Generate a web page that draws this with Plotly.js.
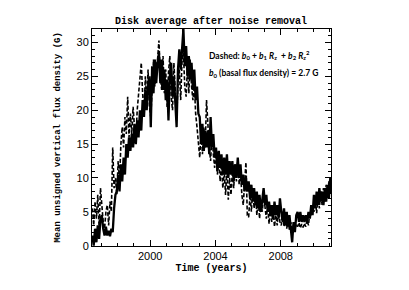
<!DOCTYPE html>
<html>
<head>
<meta charset="utf-8">
<script src="https://cdn.plot.ly/plotly-3.0.1.min.js"></script>
<style>html,body{margin:0;padding:0;background:#fff;}#chart{width:409px;height:290px;}</style>
</head>
<body>
<div id="chart"></div>
<script>
// Monthly samples starting at 1996.45 (step 1/12 yr)
const startYear = 1996.45;
const stepYear = 1 / 12;

// Solid curve: measured mean unsigned vertical flux density (G)
const solidValues = [
  1.5, 0.0, 2.5, 0.5, 3.0, 1.0, 4.0,
  4.5, 2.5, 1.5, 2.8, 1.5, 2.2,
  1.4, 2.5, 2.0, 5.5, 7.5, 8.0,
  10.5, 8.0, 12.0, 9.5, 13.0, 10.5,
  15.0, 13.0, 16.0, 14.0, 16.5, 14.5,
  18.0, 15.0, 18.5, 16.0, 20.0, 17.0,
  21.5, 19.0, 23.0, 20.0, 23.5, 25.0,
  17.5, 26.5, 22.5, 27.5, 24.0, 27.0,
  28.5, 24.0, 27.5, 23.0, 26.0, 21.5,
  24.5, 18.5, 25.0, 27.0, 22.0, 25.0,
  20.5, 17.5, 26.0, 29.0, 26.0, 29.5,
  32.0, 26.5, 29.5, 25.0, 28.0, 24.5,
  27.0, 23.0, 26.0, 21.5, 23.5, 19.5,
  19.0, 15.0, 18.0, 14.0, 17.0, 14.5,
  17.0, 13.5, 19.0, 14.5, 16.5, 13.0,
  14.5, 11.0, 14.0, 11.5, 13.5, 10.5,
  13.0, 10.5, 13.5, 10.0, 12.5, 10.5,
  12.5, 9.5, 12.0, 10.0, 13.0, 10.0,
  12.0, 9.0, 10.5, 8.0, 10.0, 8.0,
  9.5, 7.0, 9.0, 6.5, 8.5, 6.0,
  8.0, 5.5, 7.5, 5.0, 7.0, 8.5,
  6.0, 7.5, 5.0, 6.5, 4.5, 6.0,
  4.0, 6.5, 4.5, 6.0, 4.0, 7.0,
  5.0, 3.5, 5.5, 3.0, 5.0, 2.8,
  4.5, 2.5, 0.5, 3.5, 2.0, 4.5,
  5.0, 3.5, 5.0, 3.5, 4.5, 3.5,
  4.5, 3.5, 5.0, 4.0, 6.0, 4.5,
  7.5, 5.5, 8.0, 6.0, 8.5, 6.5,
  8.0, 6.0, 8.5, 6.5, 9.0, 7.0,
  10.0, 8.0
];

// Dashed curve: b0 + b1 Rz + b2 Rz^2 fit
const dashedValues = [
  5.5, 3.0, 6.5, 4.0, 7.5, 2.5, 8.5,
  5.5, 3.5, 2.5, 5.0, 6.0, 3.0,
  6.5, 5.0, 14.5, 8.5, 10.0, 7.5,
  12.5, 9.5, 15.0, 17.5, 14.5, 19.0,
  16.5, 22.0, 16.0, 19.5, 16.5, 20.5,
  17.5, 15.5, 20.0, 22.5, 25.5, 27.0,
  22.5, 19.5, 25.0, 21.5, 26.0, 20.5,
  19.0, 24.0, 27.5, 23.5, 26.5, 27.5,
  30.3, 25.0, 23.0, 28.0, 22.5, 26.0,
  20.5, 25.5, 28.0, 22.0, 20.0, 27.0,
  22.0, 18.5, 24.0, 26.0, 21.5, 27.5,
  28.5, 23.5, 22.0, 26.5, 22.5, 27.5,
  23.5, 21.5, 24.0, 19.5, 17.5, 15.0,
  13.0, 17.0, 13.5, 17.5, 14.5, 21.5,
  17.5, 14.5, 12.5, 16.5, 13.5, 11.5,
  14.0, 10.5, 13.0, 9.5, 12.0, 8.5,
  11.0, 7.5, 11.5, 6.8, 10.0, 7.5,
  11.0, 8.5, 12.0, 9.5, 12.5, 9.0,
  11.0, 7.5, 6.0, 9.5, 12.3, 4.5,
  4.2, 7.5, 5.0, 8.5, 5.5, 8.0,
  4.5, 7.0, 4.0, 6.5, 5.0, 7.5,
  5.5, 4.0, 6.0, 3.2, 5.5, 3.5,
  5.0, 2.8, 4.5, 3.0, 5.5, 3.5,
  3.0, 5.0, 2.8, 4.5, 2.5, 4.0,
  2.2, 3.5, 1.5, 3.0, 2.5, 3.2,
  2.8, 3.4, 2.6, 3.2, 2.7, 3.3,
  2.8, 3.8, 3.0, 5.0, 4.5, 6.0,
  5.0, 7.0, 4.8, 7.5, 5.5, 8.0,
  6.0, 8.5, 6.5, 9.0, 7.0, 9.5,
  7.5, 10.0
];

const xTickVals = [2000, 2004, 2008];
const xTickText = ['2000', '2004', '2008'];
const yTickVals = [0, 5, 10, 15, 20, 25, 30];
const yTickText = ['0', '5', '10', '15', '20', '25', '30'];

const years = solidValues.map((_, i) => startYear + i * stepYear);

const traces = [
  {
    x: years, y: dashedValues, type: 'scatter', mode: 'lines',
    line: {color: '#000', width: 1.6, dash: '4px,2px'},
    name: 'Dashed fit', hoverinfo: 'skip'
  },
  {
    x: years, y: solidValues, type: 'scatter', mode: 'lines',
    line: {color: '#000', width: 2.3},
    name: 'Disk average', hoverinfo: 'skip'
  }
];

const monoFont = 'Liberation Mono, Courier New, monospace';
const tickFont = {family: 'Liberation Sans, Arial, sans-serif', size: 11, color: '#000'};

const layout = {
  width: 409, height: 290,
  margin: {l: 92, r: 78, t: 29, b: 44, pad: 0},
  paper_bgcolor: '#fff', plot_bgcolor: '#fff',
  showlegend: false,
  title: {
    text: 'Disk average after noise removal',
    font: {family: monoFont, size: 10, color: '#000', weight: 'bold'},
    x: 0.516, xanchor: 'center', y: 0.93, yanchor: 'middle'
  },
  xaxis: {
    range: [1996.43, 2011.08],
    tickvals: xTickVals, ticktext: xTickText,
    ticks: 'inside', ticklen: 6, tickwidth: 1, tickcolor: '#000',
    minor: {dtick: 1, tick0: 2000, ticks: 'inside', ticklen: 3, tickwidth: 1, tickcolor: '#000'},
    showline: true, linecolor: '#000', linewidth: 1, mirror: 'allticks',
    showgrid: false, zeroline: false,
    tickfont: tickFont,
    title: {text: 'Time (years)', font: {family: monoFont, size: 10, color: '#000', weight: 'bold'}, standoff: 2},
    automargin: false
  },
  yaxis: {
    range: [-0.05, 32],
    tickvals: yTickVals, ticktext: yTickText,
    ticks: 'inside', ticklen: 6, tickwidth: 1, tickcolor: '#000',
    minor: {dtick: 1, tick0: 0, ticks: 'inside', ticklen: 3, tickwidth: 1, tickcolor: '#000'},
    showline: true, linecolor: '#000', linewidth: 1, mirror: 'allticks',
    showgrid: false, zeroline: false,
    tickfont: tickFont,
    title: {text: 'Mean unsigned vertical flux density (G)', font: {family: monoFont, size: 9, color: '#000', weight: 'bold'}, standoff: 14},
    automargin: false
  },
  annotations: [
    {
      xref: 'paper', yref: 'paper', x: 0.48, y: 0.88, xanchor: 'left', yanchor: 'middle',
      showarrow: false,
      text: '<b>Dashed: <i>b</i><sub>0</sub> + <i>b</i><sub>1</sub> <i>R</i><sub>z</sub>  + <i>b</i><sub>2</sub> <i>R</i><sub>z</sub><sup>2</sup></b>',
      font: {family: 'Lato, Open Sans, sans-serif', size: 8.5, color: '#000'}
    },
    {
      xref: 'paper', yref: 'paper', x: 0.48, y: 0.795, xanchor: 'left', yanchor: 'middle',
      showarrow: false,
      text: '<b><i>b</i><sub>0</sub> (basal flux density) = 2.7 G</b>',
      font: {family: 'Lato, Open Sans, sans-serif', size: 8.5, color: '#000'}
    }
  ]
};

Plotly.newPlot('chart', traces, layout, {staticPlot: true, displayModeBar: false});
</script>
</body>
</html>
